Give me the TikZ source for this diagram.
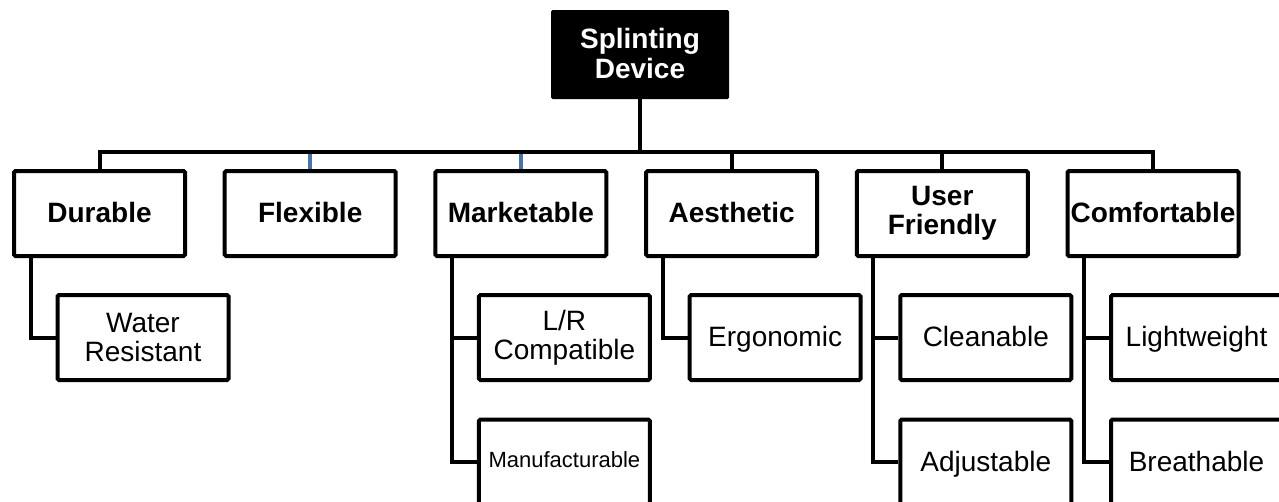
\documentclass[tikz,border=0pt]{standalone}
\usepackage{fontspec}
\setmainfont{Liberation Sans}
\usetikzlibrary{positioning,calc}
\definecolor{ink}{HTML}{000000}
\definecolor{steel}{HTML}{4A74A8}
\tikzset{
  topbox/.style={fill=ink,text=white,rounded corners=1.5pt,inner sep=1pt,minimum width=178pt,minimum height=89pt,align=center,font=\fontsize{28}{30}\selectfont\bfseries},
  mainbox/.style={draw=ink,line width=4pt,rounded corners=1.5pt,inner sep=1pt,minimum width=171pt,minimum height=85pt,align=center,font=\fontsize{28}{29}\selectfont\bfseries},
  subbox/.style={mainbox,font=\fontsize{28}{29}\selectfont},
  oneline/.style={text height=20pt,text depth=2pt},
  twoline/.style={},
  wire/.style={draw=ink,line width=4pt}
}

\begin{document}
\begin{tikzpicture}[x=1pt,y=-1pt]
\useasboundingbox (0,0) rectangle (1279,501);
\def\w{210.7}
\node[topbox,text depth=3pt] (root) at (640,54.5) {Splinting\\Device};
\coordinate (bus) at (640,152);
\foreach \i/\n/\t/\s in {0/dur/Durable/oneline,1/flex/Flexible/oneline,2/mkt/Marketable/oneline,3/aes/Aesthetic/oneline,4/usr/{User\\Friendly}/twoline,5/cmf/Comfortable/oneline}{
  \node[mainbox,\s] (\n) at (99.5+\i*\w,213.5) {\t};
}
% second level
\node[subbox] (wat) at (143,337.5) {Water\\Resistant};
\node[subbox] (lr) at (564.4,337.5) {L/R\\Compatible};
\node[subbox,font=\fontsize{22}{24}\selectfont,text height=16pt,text depth=5pt] (mfg) at (564.4,462) {Manufacturable};
\node[subbox,oneline] (erg) at (775.1,337.5) {Ergonomic};
\node[subbox,oneline] (cln) at (985.8,337.5) {Cleanable};
\node[subbox,oneline] (adj) at (985.8,462) {Adjustable};
\node[subbox,oneline] (lgt) at (1196.5,337.5) {Lightweight};
\node[subbox,oneline] (brt) at (1196.5,462) {Breathable};
% connectors
\foreach \n in {flex,mkt} \draw[wire,draw=steel] (\n.north) -- (\n.north |- bus);
\draw[wire] (root) -- (bus);
\foreach \n in {dur,aes,usr,cmf} \draw[wire] (\n.north) |- (bus);
\foreach \p/\c in {dur/wat,mkt/lr,mkt/mfg,aes/erg,usr/cln,usr/adj,cmf/lgt,cmf/brt}
  \draw[wire] ([xshift=-69pt]\p.south) |- (\c.west);
\end{tikzpicture}
\end{document}
